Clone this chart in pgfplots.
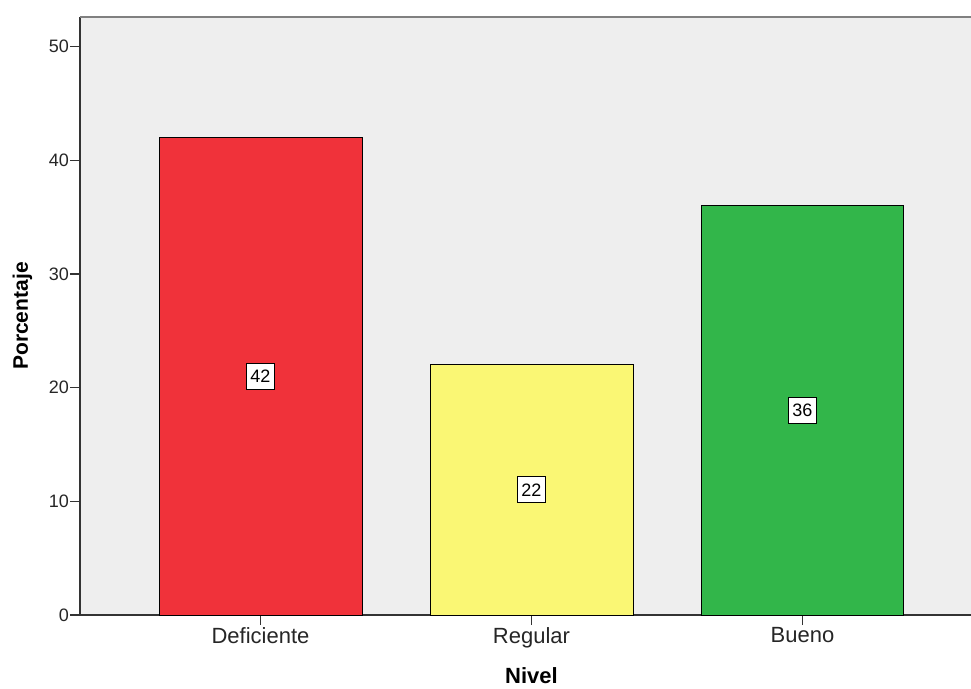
\documentclass[border=0pt]{standalone}
\usepackage{pgfplots}
\pgfplotsset{compat=1.18}
\usepackage{fontspec}
\setmainfont{Liberation Sans}
\definecolor{cRed}{RGB}{240,50,58}
\definecolor{cYel}{RGB}{250,247,116}
\definecolor{cGrn}{RGB}{50,182,74}
\definecolor{bg}{RGB}{238,238,238}
\begin{document}
\begin{tikzpicture}[x=1pt,y=1pt]
\begin{axis}[
  at={(0,0)}, anchor=south west,
  scale only axis, width=891pt, height=598pt,
  xmin=-0.666, xmax=2.622, ymin=0, ymax=52.6,
  axis x line*=bottom, axis y line*=left,
  axis line style={line width=1.6pt, color=black!80},
  axis background/.style={fill=bg},
  xtick={0,1,2}, xticklabels={Deficiente,Regular,Bueno},
  ytick={0,10,20,30,40,50},
  tick align=outside, major tick length=10pt,
  tick style={line width=1.4pt, color=black!80},
  /pgf/number format/assume math mode=true,
  yticklabel style={font=\fontsize{18}{18}\selectfont, color=black!85, inner sep=1pt},
  xticklabel style={font=\fontsize{22}{22}\selectfont, color=black!85, inner sep=2pt},
  xlabel={Nivel},
  xlabel style={at={(axis description cs:0.5067,0)}, anchor=base, yshift=-68pt,
    font=\bfseries\fontsize{22}{22}\selectfont},
  ylabel={Porcentaje},
  ylabel style={at={(axis description cs:-0.0584,0.5)}, anchor=base,
    font=\bfseries\fontsize{21}{21}\selectfont},
  clip=false,
]
\addplot[ybar, bar width=0.749, fill=cRed, draw=black, line width=0.9pt] coordinates {(0,42)};
\addplot[ybar, bar width=0.749, fill=cYel, draw=black, line width=0.9pt] coordinates {(1,22)};
\addplot[ybar, bar width=0.749, fill=cGrn, draw=black, line width=0.9pt] coordinates {(2,36)};
\addplot[draw=none, mark=none, nodes near coords, point meta=explicit symbolic,
  every node near coord/.style={anchor=center, fill=white, draw=black, line width=1pt,
    font=\fontsize{18}{18}\selectfont, inner sep=0pt, minimum width=28pt, minimum height=26pt}]
  coordinates {(0,21)[42] (1,11)[22] (2,18)[36]};
\draw[color=black!50, line width=2.5pt] (rel axis cs:0,1) -- (rel axis cs:1,1);
\end{axis}
\pgfresetboundingbox
\path (-80,-73) rectangle (891,615);
\end{tikzpicture}
\end{document}
